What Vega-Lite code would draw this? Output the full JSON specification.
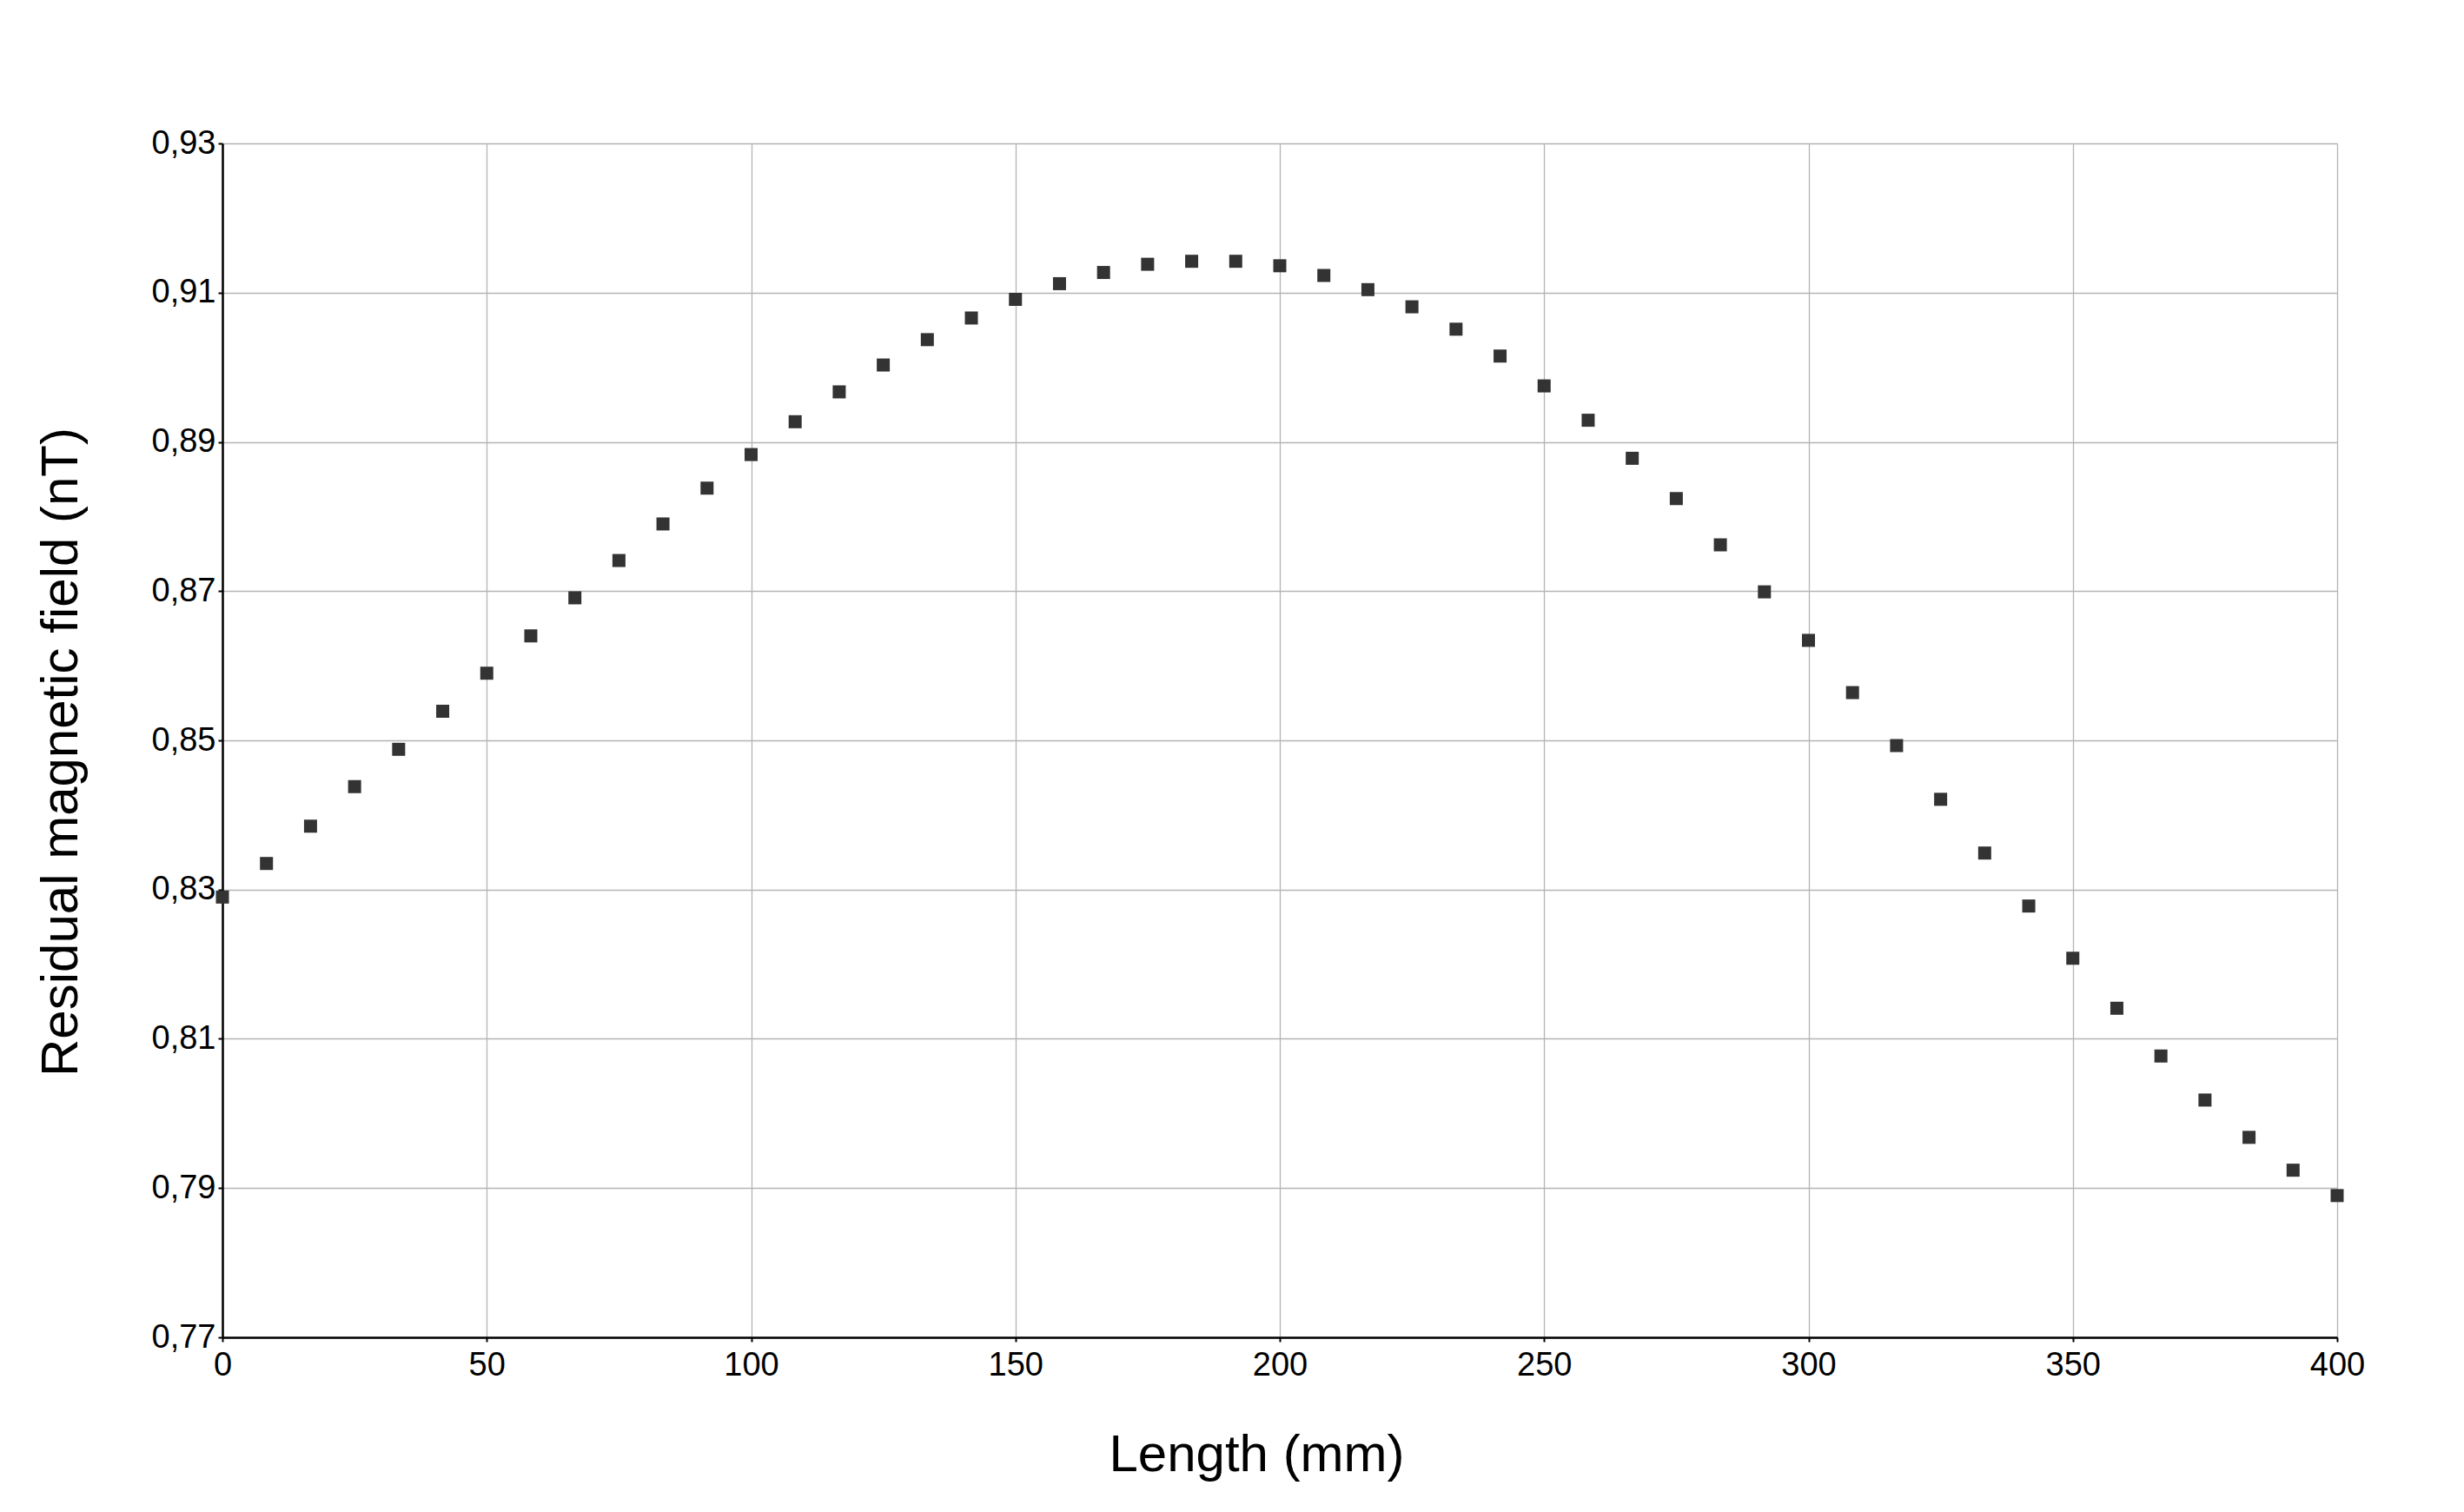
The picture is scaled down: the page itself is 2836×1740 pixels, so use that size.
{
  "$schema": "https://vega.github.io/schema/vega-lite/v6.json",
  "width": 2434,
  "height": 1374,
  "autosize": {"type": "none"},
  "padding": {"left": 256, "top": 165, "right": 146, "bottom": 201},
  "background": "white",
  "config": {
    "view": {"stroke": null},
    "font": "Liberation Sans",
    "axis": {
      "labelFont": "Liberation Sans",
      "titleFont": "Liberation Sans",
      "labelFontSize": 38,
      "titleFontSize": 60,
      "titleFontWeight": "normal",
      "labelColor": "black",
      "titleColor": "black",
      "domainColor": "black",
      "domainWidth": 2.5,
      "tickColor": "black",
      "tickWidth": 2,
      "tickSize": 5,
      "gridColor": "#b4b4b4",
      "gridWidth": 1.3
    }
  },
  "data": {
    "values": [
      {"x": 0, "y": 0.8290},
      {"x": 8.333, "y": 0.8335},
      {"x": 16.667, "y": 0.8385},
      {"x": 25, "y": 0.8438},
      {"x": 33.333, "y": 0.8488},
      {"x": 41.667, "y": 0.8539},
      {"x": 50, "y": 0.8590},
      {"x": 58.333, "y": 0.8640},
      {"x": 66.667, "y": 0.8691},
      {"x": 75, "y": 0.8741},
      {"x": 83.333, "y": 0.8790},
      {"x": 91.667, "y": 0.8838},
      {"x": 100, "y": 0.8883},
      {"x": 108.333, "y": 0.8927},
      {"x": 116.667, "y": 0.8967},
      {"x": 125, "y": 0.9003},
      {"x": 133.333, "y": 0.9037},
      {"x": 141.667, "y": 0.9066},
      {"x": 150, "y": 0.9091},
      {"x": 158.333, "y": 0.9112},
      {"x": 166.667, "y": 0.9127},
      {"x": 175, "y": 0.9138},
      {"x": 183.333, "y": 0.9142},
      {"x": 191.667, "y": 0.9142},
      {"x": 200, "y": 0.9136},
      {"x": 208.333, "y": 0.9123},
      {"x": 216.667, "y": 0.9104},
      {"x": 225, "y": 0.9081},
      {"x": 233.333, "y": 0.9051},
      {"x": 241.667, "y": 0.9015},
      {"x": 250, "y": 0.8975},
      {"x": 258.333, "y": 0.8929},
      {"x": 266.667, "y": 0.8878},
      {"x": 275, "y": 0.8824},
      {"x": 283.333, "y": 0.8762},
      {"x": 291.667, "y": 0.8699},
      {"x": 300, "y": 0.8634},
      {"x": 308.333, "y": 0.8564},
      {"x": 316.667, "y": 0.8493},
      {"x": 325, "y": 0.8421},
      {"x": 333.333, "y": 0.8349},
      {"x": 341.667, "y": 0.8278},
      {"x": 350, "y": 0.8208},
      {"x": 358.333, "y": 0.8141},
      {"x": 366.667, "y": 0.8077},
      {"x": 375, "y": 0.8018},
      {"x": 383.333, "y": 0.7968},
      {"x": 391.667, "y": 0.7924},
      {"x": 400, "y": 0.7890}
    ]
  },
  "mark": {"type": "point", "shape": "square", "filled": true, "size": 225, "color": "#333333", "opacity": 1},
  "encoding": {
    "x": {
      "field": "x",
      "type": "quantitative",
      "scale": {"domain": [0, 400], "nice": false, "zero": false},
      "axis": {
        "title": "Length (mm)",
        "values": [0, 50, 100, 150, 200, 250, 300, 350, 400],
        "labelPadding": 8,
        "labelFlush": false,
        "titleX": 1190,
        "titleY": 153,
        "titleBaseline": "alphabetic",
        "titleAlign": "center"
      }
    },
    "y": {
      "field": "y",
      "type": "quantitative",
      "scale": {"domain": [0.77, 0.93], "nice": false, "zero": false},
      "axis": {
        "title": "Residual magnetic field (nT)",
        "values": [0.77, 0.79, 0.81, 0.83, 0.85, 0.87, 0.89, 0.91, 0.93],
        "labelExpr": "replace(format(datum.value, '.2f'), '.', ',')",
        "labelPadding": 3,
        "labelFlush": false,
        "titleX": -168,
        "titleY": 700,
        "titleBaseline": "alphabetic",
        "titleAlign": "center",
        "titleAngle": -90
      }
    }
  }
}
